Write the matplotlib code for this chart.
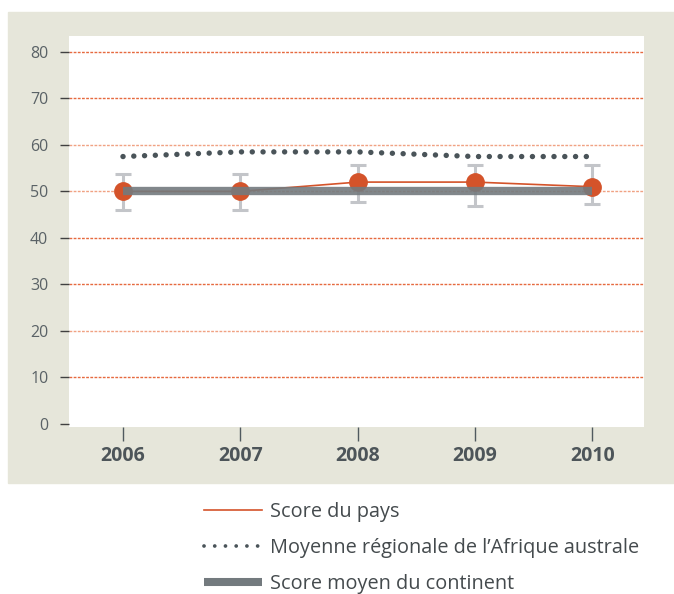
import numpy as np
import matplotlib
matplotlib.use('Agg')
import matplotlib.pyplot as plt
from matplotlib.lines import Line2D
from matplotlib.patches import Rectangle

plt.rcParams['font.family'] = ['Open Sans', 'DejaVu Sans']

# ── data ───────────────────────────────────────────────────────────────────────
years     = ["2006", "2007", "2008", "2009", "2010"]
pays      = [50, 50, 52, 52, 51]
err_low   = [46.0, 46.0, 47.7, 46.8, 47.2]
err_high  = [53.8, 53.8, 55.6, 55.6, 55.6]
regional  = [57.5, 58.5, 58.5, 57.5, 57.5]
continent = [50, 50, 50, 50, 50]
yticks    = [0, 10, 20, 30, 40, 50, 60, 70, 80]

ORANGE = "#d4532a"
GREY   = "#737a7e"
DOTS   = "#4a5459"
BEIGE  = "#e6e6da"

x = np.arange(len(years))
pays_a = np.array(pays)

fig = plt.figure(figsize=(6.74, 5.94), dpi=100)
fig.patches.append(Rectangle((0.0119, 0.1869), 1 - 0.0119, 0.9798 - 0.1869,
                             transform=fig.transFigure, color=BEIGE, zorder=-5))
ax = fig.add_axes([0.1024, 0.2811, 0.9555 - 0.1024, 0.9394 - 0.2811])
ax.set_zorder(1)
ax.set_facecolor("white")

# gridlines (alternating shades like the reference)
grid_cols = ["#f0a283", "#e66a3f", "#f0a283", "#e66a3f", "#e66a3f",
             "#f0a283", "#f0a283", "#e66a3f", "#e66a3f"]
for yv, c in zip(yticks[1:], grid_cols[1:]):
    ax.axhline(yv, color=c, lw=1.0, ls=(0, (2, 1)), zorder=1)

# error bars
ax.errorbar(x, pays, yerr=[pays_a - np.array(err_low), np.array(err_high) - pays_a],
            fmt="none", ecolor="#c3c5c9", elinewidth=2.2, capsize=5.6,
            capthick=2.2, zorder=2)

# regional dotted line
ax.plot(x, regional, color=DOTS, lw=3.9, ls=(0, (0.01, 1.98)),
        dash_capstyle="round", zorder=3)

# country line and markers
ax.plot(x, pays, color=ORANGE, lw=1.2, zorder=4)
ax.plot(x, pays, "o", color=ORANGE, ms=12.5, mec=ORANGE, zorder=5)

# continent average bar
ax.plot(x, continent, color=GREY, lw=6, solid_capstyle="butt",
        alpha=0.9, zorder=6)

ax.set_xlim(-0.46, 4.44)
ax.set_ylim(-0.73, 83.45)
ax.set_xticks(x)
ax.set_xticklabels(years, fontsize=14, fontweight="bold", color="#4d5559")
ax.set_yticks(yticks)
ax.set_yticklabels([str(v) for v in yticks], fontsize=11.5, color="#5a6266")
ax.tick_params(axis="y", length=6.3, width=1.0, color="#404040", pad=8.6)
ax.tick_params(axis="x", length=10, width=1.0, color="#505a5f", pad=4)
for s in ax.spines.values():
    s.set_visible(False)

handles = [
    Line2D([], [], color=ORANGE, lw=1.2),
    Line2D([], [], color=DOTS, lw=2.7, ls=(0, (0.01, 2.85)), dash_capstyle="round"),
    Line2D([], [], color=GREY, lw=5.8, solid_capstyle="butt"),
]
labels = ["Score du pays", "Moyenne régionale de l\u2019Afrique australe",
          "Score moyen du continent"]
fig.legend(handles, labels, loc="upper left", bbox_to_anchor=(0.302, 0.155),
           frameon=False, fontsize=14.3, handlelength=2.95, handletextpad=0.42,
           labelspacing=0.8, borderpad=0, borderaxespad=0, labelcolor="#444a4d")

fig.savefig("out.png", dpi=100)
